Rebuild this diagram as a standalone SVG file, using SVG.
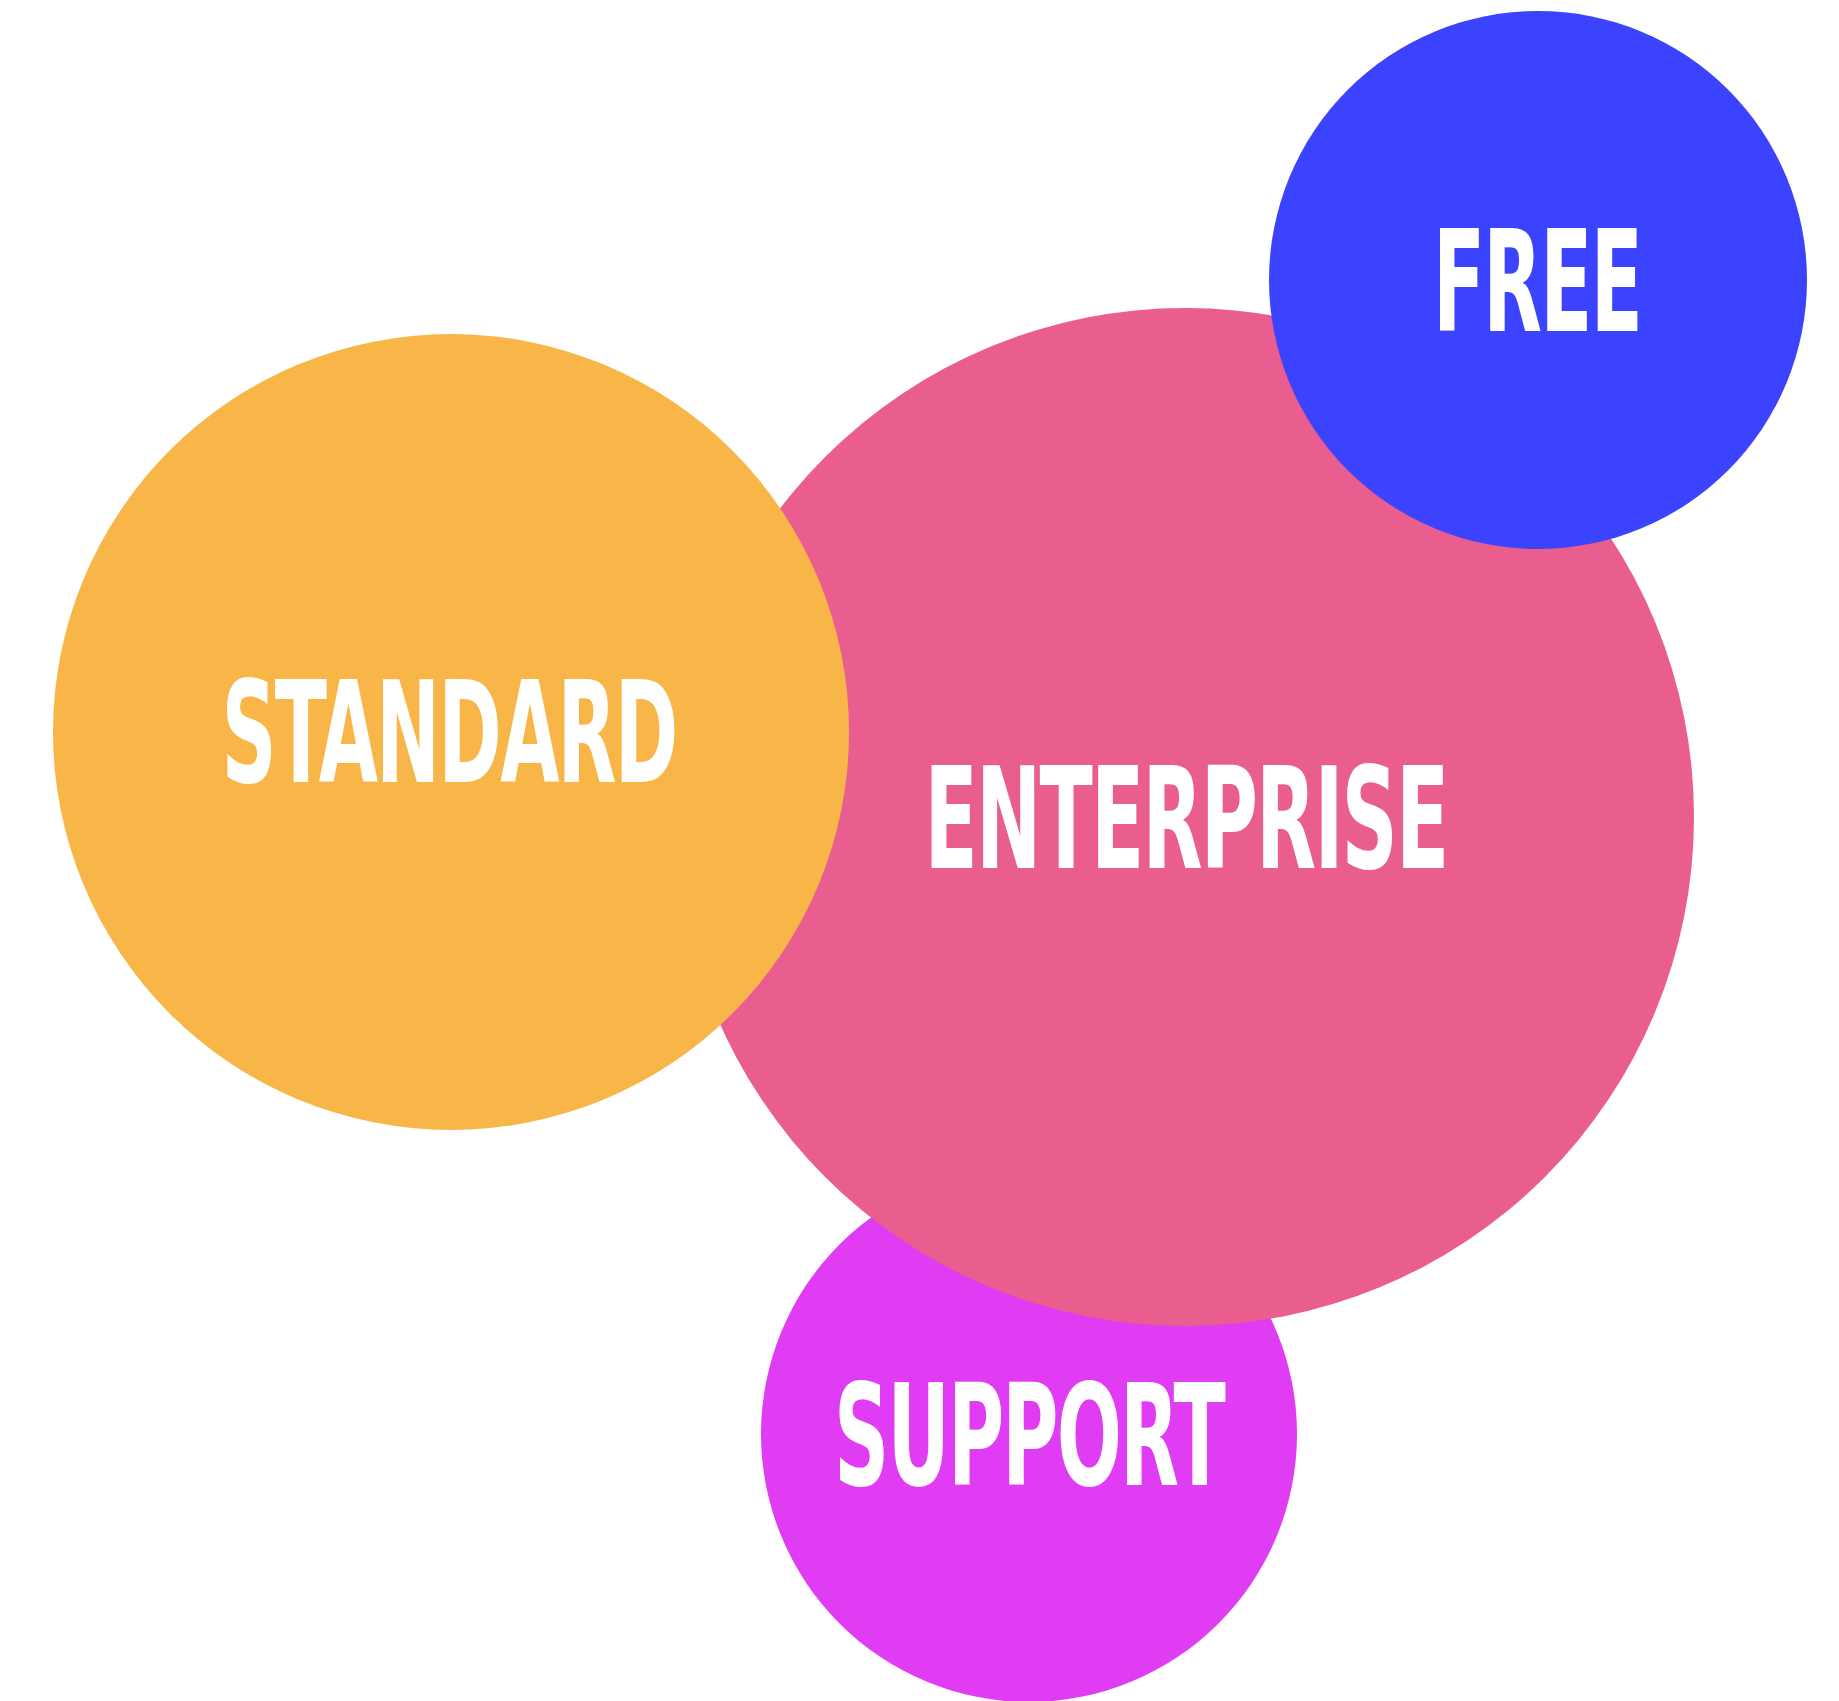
<svg xmlns="http://www.w3.org/2000/svg" width="1839" height="1701" viewBox="0 0 1839 1701">
<style>
.lbl{font-family:"DejaVu Sans Condensed","DejaVu Sans","Liberation Sans",sans-serif;font-stretch:condensed;font-weight:bold;font-size:141px;fill:#ffffff;text-anchor:middle;letter-spacing:-3px}
</style>
<rect width="1839" height="1701" fill="#ffffff"/>
<g id="connectors"></g>
<g id="support">
<circle cx="1029" cy="1434" r="268" fill="#E03CF3"/>
<text class="lbl" x="1029" y="1485" textLength="390" lengthAdjust="spacingAndGlyphs">SUPPORT</text>
</g>
<g id="enterprise">
<circle cx="1185" cy="817" r="509" fill="#E95D8F"/>
<text class="lbl" x="1186" y="868" textLength="523" lengthAdjust="spacingAndGlyphs">ENTERPRISE</text>
</g>
<g id="standard">
<circle cx="451" cy="732" r="398" fill="#F9B648"/>
<text class="lbl" x="449" y="782" textLength="455" lengthAdjust="spacingAndGlyphs">STANDARD</text>
</g>
<g id="free">
<circle cx="1538" cy="280" r="269" fill="#3C43FE"/>
<text class="lbl" x="1537" y="331" textLength="208" lengthAdjust="spacingAndGlyphs">FREE</text>
</g>
</svg>
